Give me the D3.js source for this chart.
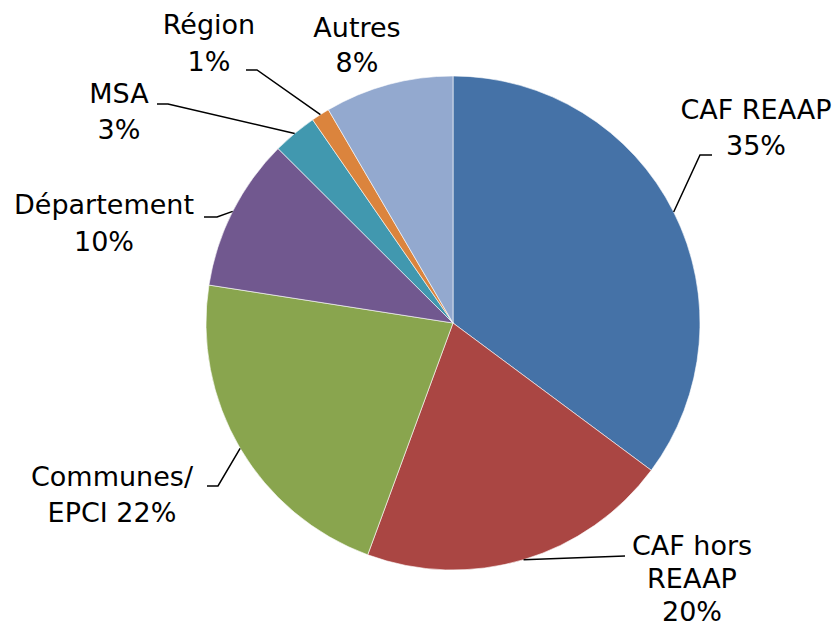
<!DOCTYPE html>
<html>
<head>
<meta charset="utf-8">
<script src="https://cdn.jsdelivr.net/npm/d3@7"></script>
<style>
  html, body { margin: 0; padding: 0; background: #fff; }
  svg text { font-family: "DejaVu Sans", Verdana, sans-serif; font-size: 27px; fill: #000; }
</style>
</head>
<body>
<svg id="chart" width="832" height="629"></svg>
<script>
// data (percent of funding)
var categories = ["CAF REAAP", "CAF hors REAAP", "Communes/ EPCI", "Département", "MSA", "Région", "Autres"];
var values = [35.1, 20.4, 21.8, 10.0, 2.9, 1.2, 8.4];
var colors = ["#4572A7", "#AA4643", "#89A54E", "#71588F", "#4198AF", "#DB843D", "#93A9CF"];
// how each label wraps; "%" marks where the percentage goes
var labelLines = [
  ["CAF REAAP", "%"],
  ["CAF hors", "REAAP", "%"],
  ["Communes/", "EPCI %"],
  ["Département", "%"],
  ["MSA", "%"],
  ["Région", "%"],
  ["Autres", "%"]
];

// label placement (layout only)
var labelPos = [
  {x: 756, y: 119, lh: 36, elbow: [700, 155], end: [712, 155]},
  {x: 692, y: 555, lh: 33, elbow: [625, 556], end: [625, 556]},
  {x: 112, y: 486, lh: 36, elbow: [218, 486], end: [207, 486]},
  {x: 104, y: 214, lh: 37, elbow: [217, 217], end: [204, 217]},
  {x: 119, y: 103, lh: 36, elbow: [168, 104], end: [157, 104]},
  {x: 209, y: 34, lh: 37, elbow: [257, 70], end: [246, 70]},
  {x: 357, y: 37, lh: 35, elbow: null, end: null}
];

var svg = d3.select("#chart"),
    cx = 453, cy = 323, radius = 247;

var total = d3.sum(values);
var data = categories.map(function(c, i) {
  return {name: c, value: values[i], color: colors[i], lines: labelLines[i], pos: labelPos[i]};
});

var pie = d3.pie().sort(null).value(function(d) { return d.value; });
var arc = d3.arc().innerRadius(0).outerRadius(radius);

var g = svg.append("g").attr("transform", "translate(" + cx + "," + cy + ")");
var arcs = pie(data);

g.selectAll("path.slice")
  .data(arcs)
  .enter().append("path")
  .attr("class", "slice")
  .attr("d", arc)
  .attr("fill", function(d) { return d.data.color; })
  .attr("stroke", "#fff")
  .attr("stroke-width", 0.6);

// leader lines from the slice edge at its mid angle
arcs.forEach(function(d) {
  var p = d.data.pos;
  if (!p.elbow) return;
  var a = (d.startAngle + d.endAngle) / 2;
  var sx = cx + radius * Math.sin(a),
      sy = cy - radius * Math.cos(a);
  svg.append("polyline")
    .attr("points", [[sx, sy], p.elbow, p.end].map(function(q) { return q.join(","); }).join(" "))
    .attr("fill", "none")
    .attr("stroke", "#000")
    .attr("stroke-width", 1.5);
});

// labels
arcs.forEach(function(d) {
  var pct = Math.round(d.data.value / total * 100) + "%";
  var t = svg.append("text")
    .attr("text-anchor", "middle")
    .attr("x", d.data.pos.x)
    .attr("y", d.data.pos.y);
  d.data.lines.forEach(function(line, i) {
    t.append("tspan")
      .attr("x", d.data.pos.x)
      .attr("dy", i === 0 ? 0 : d.data.pos.lh)
      .text(line.replace("%", pct));
  });
});
</script>
</body>
</html>
